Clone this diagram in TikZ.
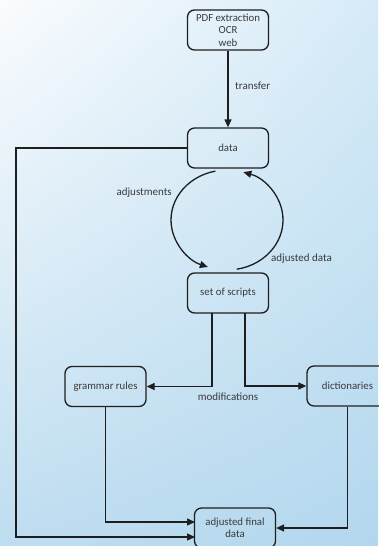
\documentclass[tikz,border=0pt]{standalone}
\usepackage{fontspec}
\setmainfont{Carlito}
\usetikzlibrary{arrows.meta,calc,shadings}
\definecolor{bgUL}{HTML}{FAFCFE}
\definecolor{bgUR}{HTML}{D6EBF7}
\definecolor{bgLL}{HTML}{BEDDF0}
\definecolor{bgLR}{HTML}{B3D7EE}
\definecolor{lineC}{HTML}{1E1E1E}
\definecolor{txtC}{HTML}{3A3A3A}
\tikzset{
  box/.style={draw=lineC, line width=1.3pt, rounded corners=7pt, minimum width=81pt, minimum height=40pt,
    inner sep=1pt, align=center, text=txtC, font=\fontsize{10.8}{12.5}\selectfont},
  conn/.style={draw=lineC, line width=1.3pt},
  arr/.style={conn, -{Triangle[length=8pt,width=7pt]}},
  lbl/.style={text=txtC, font=\fontsize{11}{13}\selectfont, inner sep=0pt}
}
\begin{document}
\begin{tikzpicture}[x=1pt,y=-1pt]
\shade[upper left=bgUL, upper right=bgUR, lower left=bgLL, lower right=bgLR] (0,0) rectangle (378,546);
\useasboundingbox (0,0) rectangle (378,546);

\node[box] (pdf) at (228,30) {PDF extraction\\OCR\\web};
\node[box] (data) at (228,148) {data};
\node[box] (scripts) at (228,293) {set of scripts};
\node[box] (grammar) at (105.5,386.5) {grammar rules};
\node[box] (dict) at (347.5,386) {dictionaries};
\node[box] (final) at (235,528) {adjusted final\\data};

\coordinate (cc) at (227,220);

% transfer
\draw[arr] (pdf.south) -- (data.north);
\node[lbl, anchor=west] (ltransfer) at (235,86) {transfer};

% loop
\draw[arr] ($(cc)+(258:56 and 50)$) arc[start angle=258, end angle=110, x radius=56, y radius=50];
\draw[arr] ($(cc)+(80:56 and 50)$) arc[start angle=80, end angle=-73, x radius=56, y radius=50];
\node[lbl, anchor=east] (ladj) at (172,193) {adjustments};
\node[lbl, anchor=west] (ladjd) at (271,259) {adjusted data};

% modifications
\coordinate (sL) at (212,313);
\coordinate (sR) at (245,313);
\draw[arr] (sL) |- (grammar.east);
\draw[arr] (sR) |- (dict.west);
\node[lbl] (lmod) at (228,397) {modifications};

% to final
\coordinate (fA) at (195,522);
\coordinate (fB) at (195,537);
\coordinate (lcorner) at (16,148);
\draw[arr] (grammar.south) |- (fA);
\draw[arr] (data.west) -- (lcorner) |- (fB);
\draw[arr] (dict.south) |- (final.east);
\end{tikzpicture}
\end{document}
